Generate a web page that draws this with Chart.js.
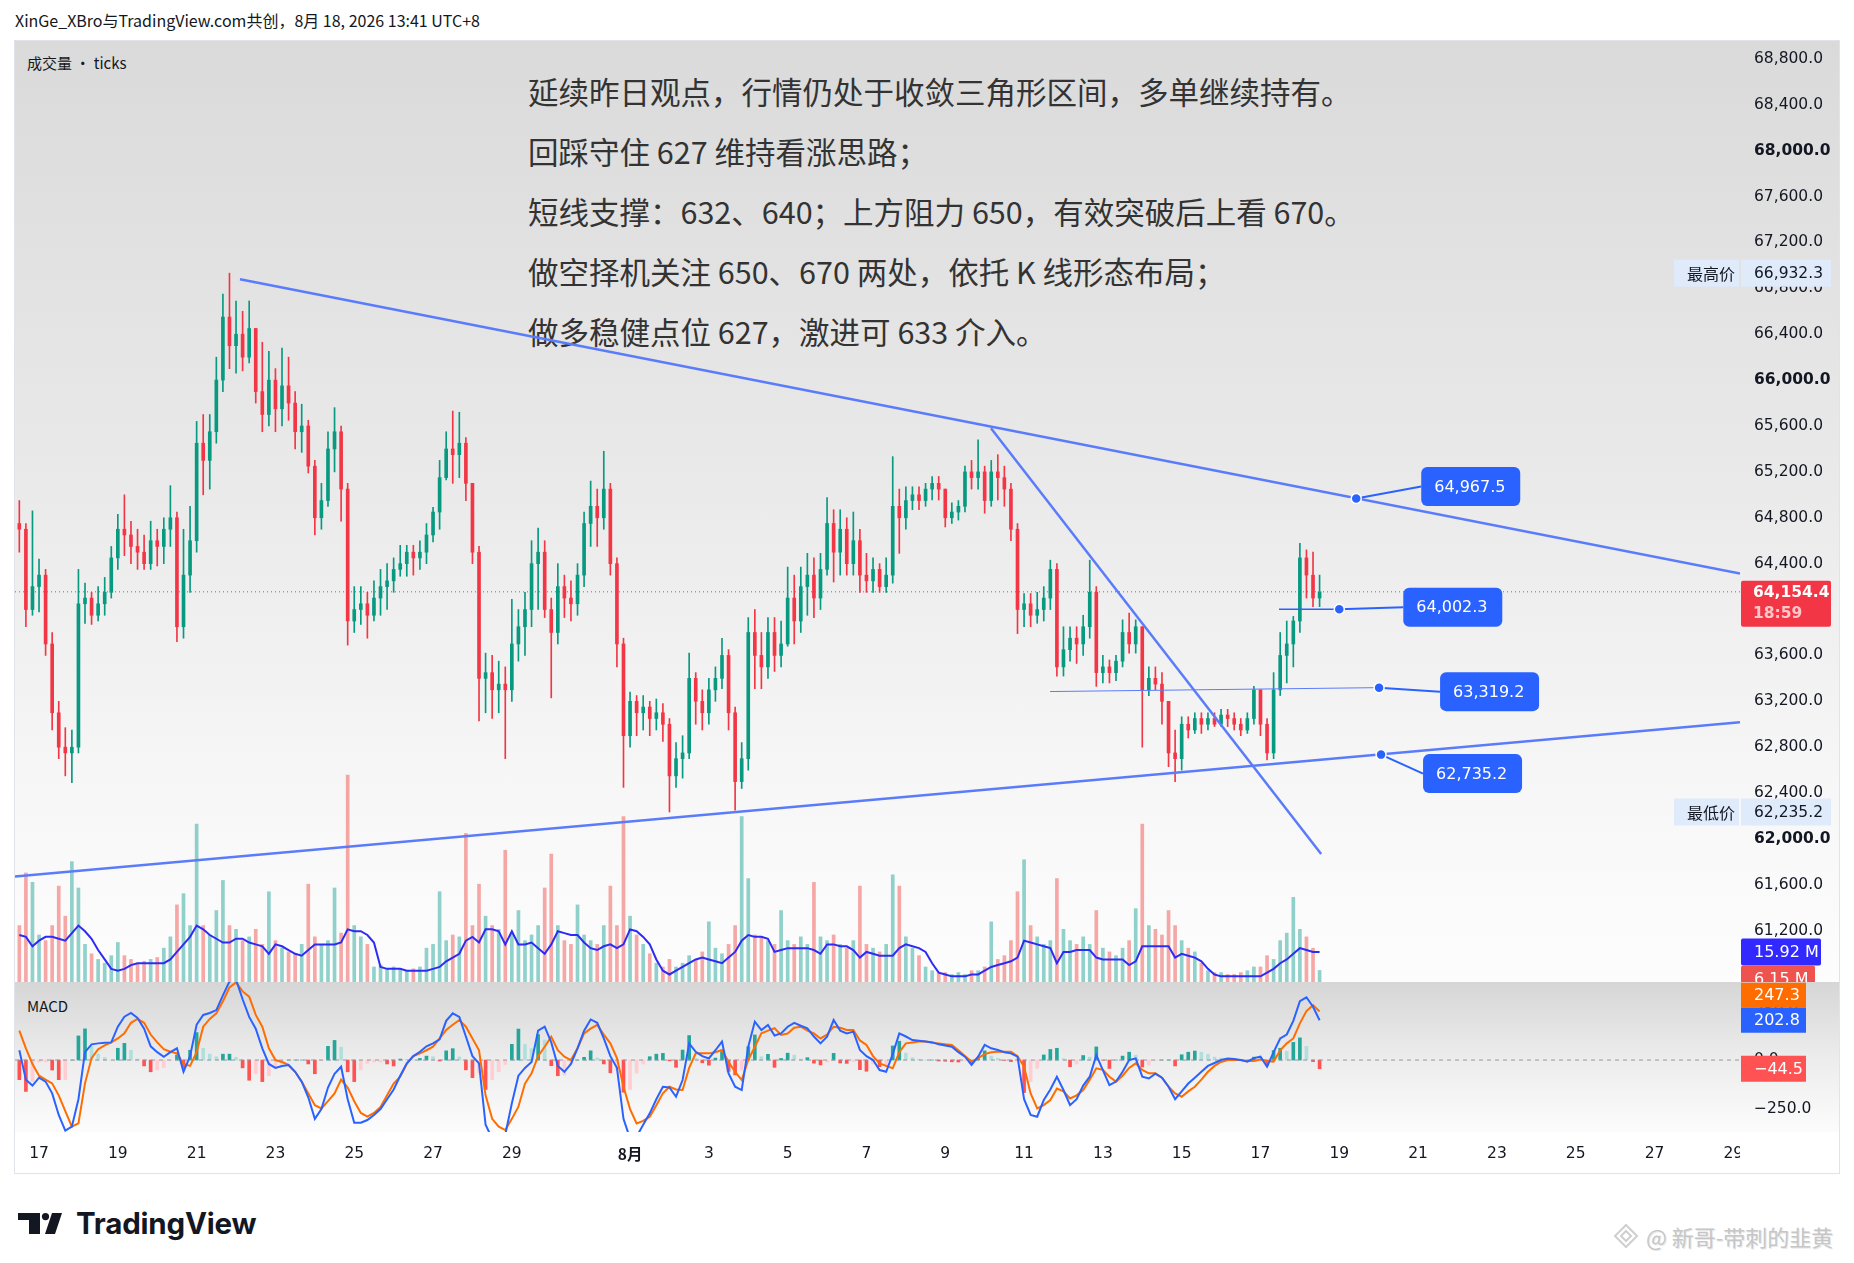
<!DOCTYPE html>
<html lang="zh-CN">
<head>
<meta charset="utf-8">
<title>XinGe_XBro TradingView</title>
<script src="https://cdn.jsdelivr.net/npm/chart.js@4.4.1/dist/chart.umd.min.js"></script>
<style>
    body { margin: 0; width: 1854px; height: 1263px; background: #fff; position: relative; overflow: hidden; font-family: "DejaVu Sans", sans-serif; color: #131722; }
    .abs { position: absolute; }
    #header { left: 15px; top: 8px; font-family: "Noto Sans CJK SC", sans-serif; font-size: 16px; white-space: nowrap; }
    #frame { left: 14px; top: 40px; width: 1826px; height: 1134px; border: 1px solid #e0e3eb; box-sizing: border-box; }
    #mainBg { left: 15px; top: 41px; width: 1824px; height: 941px; background: linear-gradient(#dadada, #e9e9e9 45%, #f7f7f7 80%, #fdfdfd); }
    #macdBg { left: 15px; top: 982px; width: 1824px; height: 150px; background: linear-gradient(#d6d6d6, #ececec 50%, #fcfcfc); }
    #mainBox { left: 15px; top: 40px; width: 1824px; height: 942px; }
    #macdBox { left: 15px; top: 982px; width: 1824px; height: 191px; }
    .paneTitle { font-family: "Noto Sans CJK SC", sans-serif; font-size: 15px; color: #131722; }
    #notes { left: 528px; top: 61px; font-family: "Noto Sans CJK SC", sans-serif; font-size: 30.5px; line-height: 60px; color: #333; white-space: nowrap; }
    #logo { left: 18px; top: 1205px; display: flex; align-items: center; }
    #logo span { font-family: "Inter", sans-serif; font-weight: 700; font-size: 29.5px; letter-spacing: -0.2px; color: #131722; margin-left: 14px; }
    #mark { left: 1612px; top: 1220px; font-family: "Noto Sans CJK SC", sans-serif; font-size: 22px; color: #c6c6c6; text-shadow: 1px 1px 0 #e9e9e9; display: flex; align-items: center; }
</style>
</head>
<body>
<div id="header" class="abs">XinGe_XBro与TradingView.com共创，8月 18, 2026 13:41 UTC+8</div>
<div id="mainBg" class="abs"></div>
<div id="macdBg" class="abs"></div>
<div id="frame" class="abs"></div>
<div class="abs paneTitle" style="left:27px;top:52px;">成交量 · ticks</div>
<div class="abs paneTitle" style="left:27px;top:995px;">MACD</div>
<div id="notes" class="abs">
    <div>延续昨日观点，行情仍处于收敛三角形区间，多单继续持有。</div>
    <div>回踩守住 627 维持看涨思路；</div>
    <div>短线支撑：632、640；上方阻力 650，有效突破后上看 670。</div>
    <div>做空择机关注 650、670 两处，依托 K 线形态布局；</div>
    <div>做多稳健点位 627，激进可 633 介入。</div>
</div>
<div id="mainBox" class="abs"><canvas id="mainChart"></canvas></div>
<div id="macdBox" class="abs"><canvas id="macdChart"></canvas></div>
<div id="logo" class="abs">
    <svg width="44" height="21" viewBox="0 0 44 21"><path d="M0 0H22V21H11V7H0Z" fill="#131722"/><circle cx="27.5" cy="3.6" r="3.6" fill="#131722"/><path d="M34 0H44L37 21H27Z" fill="#131722"/></svg>
    <span>TradingView</span>
</div>
<div id="mark" class="abs">
    <svg width="28" height="28" viewBox="0 0 28 28"><path d="M14 3L25 14L14 25L3 14Z M14 9L19 14L14 19L9 14Z" fill="none" stroke="#cfcfcf" stroke-width="2"/></svg>
    <span style="margin-left:6px;">@ 新哥-带刺的韭黄</span>
</div>

<script>
/* Data: 4h bars from 16 Jul 12:00, x axis counts days from 17 Jul 00:00 */
const firstBarDay = -0.5;
const barDays = 4 / 24;
const firstOpen = 64750;

const closes = [
    64700, 64000, 64200,
    64300, 63700, 63100, 62800, 62750, 62800,
    64050, 64100, 63950, 64050, 64150, 64450,
    64700, 64650, 64550, 64500, 64400, 64600,
    64550, 64700, 64800, 63850, 64300, 64600,
    65450, 65300, 65550, 66000, 66550, 66300,
    66400, 66200, 66450, 65900, 65700, 66000,
    65750, 65950, 65800, 65550, 65600, 65250,
    64800, 64950, 65400, 65550, 65050, 63900,
    64000, 64050, 63950, 64100, 64200, 64250,
    64350, 64400, 64500, 64450, 64500, 64650,
    64850, 65150, 65400, 65350, 65450, 65100,
    64500, 63400, 63450, 63300, 63350, 63300,
    63700, 63850, 64000, 64400, 64500, 64000,
    63800, 64200, 64100, 64050, 64300, 64750,
    64900, 64800, 65050, 64400, 63700, 62900,
    63200, 63100, 63150, 63050, 63100, 63000,
    62550, 62700, 62750, 63400, 63200, 63100,
    63300, 63400, 63600, 63100, 62500, 62700,
    63800, 63600, 63500, 63800, 63600, 63700,
    64100, 63900, 64200, 64300, 64100, 64350,
    64750, 64500, 64700, 64400, 64600, 64300,
    64250, 64350, 64200, 64300, 64900, 64800,
    64950, 65000, 64950, 65050, 65100, 65050,
    64800, 64850, 64900, 65200, 65150, 65200,
    64950, 65200, 65150, 65050, 64700, 64000,
    64050, 63950, 64000, 64100, 64350, 63500,
    63650, 63750, 63700, 63850, 64150, 63450,
    63500, 63450, 63550, 63800, 63700, 63850,
    63300, 63400, 63350, 63200, 62750, 62700,
    63000, 62950, 63050, 63000, 63050, 63000,
    63080, 63050, 63000, 62950, 63050, 63300,
    63000, 62750, 63300, 63600, 63700, 63900,
    64450, 64300, 64100, 64154.4
];

const highs = [
    64950, 64750, 64860,
    64440, 64350, 63800, 63200, 62970, 62950,
    64350, 64230, 64150, 64200, 64280, 64550,
    64830, 65000, 64770, 64700, 64650, 64770,
    64700, 64800, 65080, 64850, 64700, 64900,
    65640, 65700, 65700, 66200, 66750, 66932.3,
    66690, 66600, 66690, 66450, 66330, 66250,
    66100, 66280, 66200, 65900, 65790, 65650,
    65300, 65100, 65550, 65760, 65600, 65100,
    64200, 64200, 64150, 64250, 64350, 64400,
    64450, 64560, 64560, 64560, 64600, 64750,
    64890, 65300, 65550, 65730, 65720, 65500,
    65100, 64550, 63620, 63600, 63550, 63500,
    64090, 64000, 64150, 64600, 64710, 64600,
    64100, 64400, 64300, 64250, 64400, 64850,
    65120, 65050, 65380, 65100, 64450, 63750,
    63280, 63250, 63250, 63200, 63220, 63180,
    63050, 62840, 62900, 63620, 63450, 63300,
    63400, 63500, 63750, 63650, 63150, 62840,
    63930, 64000, 63800, 63930, 63930, 63900,
    64370, 64300, 64370, 64490, 64450, 64490,
    64975, 64870, 64870, 64800, 64850, 64700,
    64490, 64450, 64400, 64450, 65333, 65050,
    65070, 65070, 65070, 65100, 65160, 65160,
    65000, 64930, 64950, 65250, 65300, 65480,
    65250, 65300, 65350, 65250, 65100, 64750,
    64140, 64140, 64150, 64200, 64430, 64400,
    63850, 63850, 63850, 63950, 64430, 64200,
    63600, 63560, 63600, 63910, 63970, 63910,
    63850, 63500, 63500, 63450, 63200, 62950,
    63065, 63065, 63100, 63100, 63100, 63100,
    63130, 63130, 63100, 63050, 63100, 63330,
    63300, 63050, 63450, 63800, 63900, 63940,
    64578, 64520, 64500, 64300
];

const lows = [
    64500, 63850, 63950,
    63980, 63600, 62950, 62700, 62550, 62490,
    62750, 63880, 63870, 63900, 63950, 64100,
    64350, 64470, 64400, 64350, 64350, 64350,
    64380, 64400, 64550, 63720, 63750, 64150,
    64500, 65000, 65050, 65450, 65900, 66100,
    66060, 66080, 66150, 65800, 65550, 65600,
    65550, 65600, 65650, 65400, 65370, 65190,
    64650, 64700, 64900, 65200, 64770, 63690,
    63800, 63870, 63750, 63900, 63950, 64000,
    64150, 64290, 64290, 64300, 64350, 64400,
    64590, 64700, 65130, 65100, 65150, 64950,
    64400, 63030, 63100, 63050, 63100, 62700,
    63200, 63550, 63600, 63850, 64000, 63930,
    63230, 63700, 63930, 63900, 63950, 64200,
    64550, 64550, 64700, 64300, 63500, 62450,
    62800, 62900, 62950, 62900, 62950, 62850,
    62235.2, 62450, 62530, 62700, 63000, 62950,
    63000, 63200, 63310, 62950, 62250, 62440,
    62600, 63310, 63310, 63400, 63460, 63500,
    63680, 63700, 63800, 63950, 63930, 64000,
    64300, 64240, 64300, 64300, 64300, 64150,
    64150, 64150, 64150, 64150, 64230, 64490,
    64700, 64870, 64870, 64900, 64955, 64955,
    64720, 64750, 64780, 64850, 65050, 65050,
    64840, 64900, 64955, 64900, 64600, 63790,
    63850, 63850, 63880, 63900, 64000, 63420,
    63420, 63550, 63530, 63600, 63750, 63330,
    63360, 63360, 63380, 63500, 63620, 63620,
    62800, 63250, 63300, 63000, 62630, 62500,
    62600, 62880, 62920, 62920, 62950, 62980,
    62980, 62980, 62950, 62900, 62920, 63000,
    62900, 62690, 62700, 63250, 63360, 63500,
    63800, 64100, 64025, 64025
];

// volume, millions
const volumes = [
    30, 58, 53,
    25, 22, 30, 51, 35, 64,
    50, 20, 15, 12, 10, 14,
    21, 14, 12, 10, 11, 12,
    13, 18, 24, 41, 47, 30,
    84, 30, 25, 38, 54, 30,
    28, 22, 24, 28, 20, 48,
    22, 18, 16, 15, 20, 52,
    24, 20, 22, 50, 26, 110,
    30, 24, 20, 8, 9, 7,
    8, 7, 6, 7, 8, 18,
    20, 48, 22, 25, 24, 79,
    30, 52, 35, 30, 28, 70,
    26, 38, 22, 25, 30, 50,
    68, 30, 22, 20, 41, 25,
    22, 20, 30, 51, 30, 88,
    35, 25, 20, 15, 10, 8,
    12, 8, 10, 14, 12, 16,
    32, 18, 15, 20, 30, 88,
    55, 25, 24, 22, 20, 38,
    22, 20, 24, 20, 53, 24,
    22, 25, 20, 18, 22, 51,
    20, 18, 16, 20, 57, 51,
    24, 18, 14, 8, 6, 5,
    5, 4, 5, 4, 6, 6,
    8, 32, 12, 14, 22, 48,
    65, 30, 24, 20, 22, 55,
    28, 22, 20, 24, 20, 38,
    18, 16, 14, 18, 22, 39,
    84, 30, 28, 25, 38, 30,
    22, 18, 16, 10, 6, 5,
    5, 4, 4, 5, 6, 8,
    8, 14, 12, 22, 26, 45,
    28, 24, 18, 6.15
];

const volumeMA = [
    25, 24, 19,
    22, 24, 24, 23, 22, 26,
    30, 27, 23, 17, 12, 7,
    6, 7, 9, 10, 10, 10,
    10, 10, 12, 16, 20, 24,
    30, 28, 25, 23, 21, 21,
    23, 23, 21, 20, 19, 15,
    20, 19, 17, 15, 14, 17,
    20, 20, 20, 20, 21, 28,
    27, 27, 25, 21, 8, 7,
    7, 7, 6, 6, 6, 6,
    7, 8, 11, 13, 15, 22,
    24, 21, 28, 28, 27, 20,
    27, 20, 20, 21, 18, 15,
    20, 27, 26, 25, 25, 21,
    18, 17, 19, 20, 18, 20,
    28, 27, 24, 20, 12, 6,
    4, 6, 8, 10, 12, 13,
    12, 11, 10, 13, 16, 22,
    25, 24, 24, 23, 16, 17,
    18, 18, 18, 18, 17, 15,
    20, 20, 19, 19, 17, 13,
    16, 15, 14, 14, 14, 18,
    20, 19, 18, 16, 10, 5,
    4, 3, 3, 3, 4, 4,
    6, 8, 9, 10, 11, 13,
    22, 21, 20, 19, 18, 10,
    16, 16, 17, 17, 17, 13,
    12, 12, 12, 12, 9, 11,
    19, 19, 19, 19, 19, 13,
    15, 14, 13, 11, 7, 4,
    3, 3, 3, 3, 3, 3,
    3, 5, 7, 10, 12, 15,
    18, 17, 16, 15.92
];

const macdLine = [
    50, -100, -130,
    -90, -110, -170, -280, -360, -340,
    -200, 40, 80, 85, 88, 90,
    170, 221, 240, 215, 160, 70,
    40, 17, 40, 60, -60, 20,
    180, 230, 240, 255, 330, 400,
    410, 310, 220, 160, 60, -20,
    -40, -30, -25, -60, -110, -190,
    -300, -250, -140, -70, -34, -200,
    -320, -320, -306, -280, -250, -200,
    -150, -80, -17, 20, 42, 70,
    85, 105, 200, 238, 220, 120,
    20, -17, -330, -400, -400, -380,
    -220, -80, -40, -10, 150, 170,
    90, -30, -60, -20, 60, 150,
    207, 190, 110, 20, -40, -300,
    -400, -390, -330, -272, -200, -136,
    -140, -187, -102, 85, 42, 20,
    8, 50, 94, -68, -136, -153,
    68, 196, 153, 179, 125, 136,
    170, 190, 175, 162, 120, 85,
    119, 204, 150, 136, 145, 51,
    20, 0, -51, -60, 30, 136,
    120, 102, 98, 94, 90, 80,
    74, 68, 40, 17, -25, 17,
    77, 60, 51, 40, 34, 17,
    -200, -280, -289, -204, -150, -85,
    -153, -230, -200, -130, -85, 25,
    -51, -128, -110, -60, 0, 8,
    -85, -94, -70, -90, -136, -200,
    -160, -120, -90, -60, -30, -15,
    0, 8, 5, 0, -8, 10,
    17, -34, 40, 110, 130, 200,
    300, 320, 272, 202.8
];

const signalLine = [
    150, 60, -20,
    -80, -100, -119, -180, -260, -340,
    -323, -119, 10, 55, 75, 90,
    110, 136, 190, 210, 190, 130,
    90, 55, 42, 34, -20, -30,
    40, 170, 210, 238, 300, 370,
    396, 350, 323, 230, 170, 60,
    0, -10, -25, -60, -110, -170,
    -230, -247, -210, -170, -100, -140,
    -210, -270, -289, -270, -240, -180,
    -120, -85, -20, 20, 34, 50,
    68, 110, 153, 180, 204, 170,
    110, 50, -180, -300, -340, -357,
    -300, -238, -120, -68, 20, 68,
    119, 50, 17, 0, 60, 136,
    160, 179, 130, 85, 10, -136,
    -250, -323, -310, -289, -230, -170,
    -136, -150, -153, -40, 34, 34,
    34, 40, 51, -10, -60, -102,
    0, 68, 136, 150, 162, 128,
    135, 165, 170, 150, 136, 110,
    130, 170, 165, 153, 153, 100,
    77, 20, -17, -30, -42, 40,
    85, 90, 94, 94, 90, 85,
    80, 77, 50, 20, -8, 10,
    30, 40, 42, 42, 42, 20,
    -34, -170, -247, -230, -204, -145,
    -160, -196, -180, -153, -100, -42,
    -50, -85, -110, -80, -40, -17,
    -50, -68, -68, -90, -136, -170,
    -187, -160, -136, -100, -60, -30,
    -10, 0, 0, 0, -5, -5,
    3, -5, -8, 50, 85, 110,
    187, 250, 280, 247.3
];

const priceTicks = [61200, 61600, 62000, 62400, 62800, 63200, 63600, 64000, 64400, 64800, 65200, 65600, 66000, 66400, 66800, 67200, 67600, 68000, 68400, 68800];
const macdTicks = [-250, 0, 250];
const tickDays = [0, 2, 4, 6, 8, 10, 12, 15, 17, 19, 21, 23, 25, 27, 29, 31, 33, 35, 37, 39, 41, 43];
const tickLabels = ['17', '19', '21', '23', '25', '27', '29', '8月', '3', '5', '7', '9', '11', '13', '15', '17', '19', '21', '23', '25', '27', '29'];

// drawings (day, price)
const upperTrend = [[5.10, 66880], [43.17, 64314]];
const lowerTrend = [[-0.61, 61672], [43.17, 63017]];
const steepTrend = [[24.16, 65580], [32.54, 61869]];
const levelLine = [[25.66, 63285], [34.01, 63319.2]];
const shortLine = [[31.47, 64002.3], [33.0, 64002.3]];
const tagPoints = [[33.43, 64967.5], [33.0, 64002.3], [34.01, 63319.2], [34.06, 62735.2]];

const lastPrice = 64154.4;
const barTimer = '18:59';
const highestPrice = 66932.3;
const lowestPrice = 62235.2;
const lastVolume = 6.15;
const lastVolumeMA = 15.92;
const lastMacd = 202.8;
const lastSignal = 247.3;

const xMin = -0.61;
const xMax = 43.17;

/* Helpers */
function GetTimes(values) {
    let times = [];
    for (let i = 0; i < values.length; i++) {
        times.push(firstBarDay + i * barDays);
    }
    return times;
}

function GetOpens(values) {
    let opens = [];
    let prev = firstOpen;
    for (let i = 0; i < values.length; i++) {
        opens.push(prev);
        prev = values[i];
    }
    return opens;
}

function FormatPrice(v) {
    return v.toLocaleString('en-US', { minimumFractionDigits: 1, maximumFractionDigits: 1 });
}

function FormatSigned(v) {
    return (v < 0 ? '\u2212' : '') + Math.abs(v).toFixed(1);
}

function ToPoints(pairs) {
    return pairs.map(function (p) { return { x: p[0], y: p[1] }; });
}

function DrawTag(ctx, x, y, w, h, bg, text, color, font, radius) {
    ctx.fillStyle = bg;
    ctx.beginPath();
    ctx.roundRect(x, y, w, h, radius || 0);
    ctx.fill();
    ctx.fillStyle = color;
    ctx.font = font;
    ctx.textAlign = 'left';
    ctx.textBaseline = 'middle';
    ctx.fillText(text, x + 13, y + h / 2 + 1);
}

const times = GetTimes(closes);
const opens = GetOpens(closes);
const upColor = '#089981';
const downColor = '#f23645';
const tagFont = '16px "DejaVu Sans"';

let candleColors = [];
let volumeColors = [];
let bodies = [];
let wicks = [];
let volumeBars = [];
let volumeLine = [];
for (let i = 0; i < closes.length; i++) {
    let up = closes[i] >= opens[i];
    candleColors.push(up ? upColor : downColor);
    volumeColors.push(up ? 'rgba(38,166,154,0.5)' : 'rgba(239,83,80,0.5)');
    bodies.push({ x: times[i], y: [opens[i], closes[i]] });
    wicks.push({ x: times[i], y: [Math.min(lows[i], opens[i], closes[i]), Math.max(highs[i], opens[i], closes[i])] });
    volumeBars.push({ x: times[i], y: volumes[i] });
    volumeLine.push({ x: times[i], y: volumeMA[i] });
}

let histBars = [];
let histColors = [];
let macdPoints = [];
let signalPoints = [];
let prevHist = 0;
for (let i = 0; i < macdLine.length; i++) {
    let h = macdLine[i] - signalLine[i];
    histBars.push({ x: times[i], y: h });
    if (h >= 0) {
        histColors.push(h >= prevHist ? '#26a69a' : '#b2dfdb');
    } else {
        histColors.push(h < prevHist ? '#ff5252' : '#ffcdd2');
    }
    prevHist = h;
    macdPoints.push({ x: times[i], y: macdLine[i] });
    signalPoints.push({ x: times[i], y: signalLine[i] });
}

Chart.defaults.font.family = '"DejaVu Sans", sans-serif';
Chart.defaults.color = '#131722';

/* Price pane */
const mainOverlay = {
    id: 'mainOverlay',
    afterDraw: function (chart) {
        let ctx = chart.ctx;
        let xs = chart.scales.x;
        let ys = chart.scales.y;
        let vs = chart.scales.yVol;
        let axisX = chart.chartArea.right;
        let offsets = [[65, -12], [64, -2], [61, 4], [42, 19]];

        ctx.save();
        ctx.beginPath();
        ctx.rect(0, 0, axisX, chart.height);
        ctx.clip();
        tagPoints.forEach(function (p, k) {
            let px = xs.getPixelForValue(p[0]);
            let py = ys.getPixelForValue(p[1]);
            let bx = px + offsets[k][0];
            let cy = py + offsets[k][1];
            ctx.strokeStyle = '#2962ff';
            ctx.lineWidth = 2;
            ctx.beginPath();
            ctx.moveTo(px, py);
            ctx.lineTo(bx, cy);
            ctx.stroke();
            DrawTag(ctx, bx, cy - 19.5, 99, 39, '#2962ff', FormatPrice(p[1]), '#ffffff', tagFont, 6);
            ctx.beginPath();
            ctx.arc(px, py, 5, 0, Math.PI * 2);
            ctx.fillStyle = '#2962ff';
            ctx.fill();
            ctx.strokeStyle = '#ffffff';
            ctx.lineWidth = 1.5;
            ctx.stroke();
        });
        ctx.restore();

        ctx.save();
        let hy = ys.getPixelForValue(highestPrice);
        DrawTag(ctx, axisX - 66, hy - 13.5, 65, 27, '#dfeafb', '最高价', '#131722', '16px "Noto Sans CJK SC"');
        DrawTag(ctx, axisX + 1, hy - 13.5, 90, 27, '#dfeafb', FormatPrice(highestPrice), '#131722', '15.5px "DejaVu Sans"');
        let ly = ys.getPixelForValue(lowestPrice);
        DrawTag(ctx, axisX - 66, ly - 13.5, 65, 27, '#dfeafb', '最低价', '#131722', '16px "Noto Sans CJK SC"');
        DrawTag(ctx, axisX + 1, ly - 13.5, 90, 27, '#dfeafb', FormatPrice(lowestPrice), '#131722', '15.5px "DejaVu Sans"');

        let py = ys.getPixelForValue(lastPrice);
        ctx.fillStyle = '#f23645';
        ctx.beginPath();
        ctx.roundRect(axisX + 1, py - 11, 90, 46, 2);
        ctx.fill();
        ctx.textAlign = 'left';
        ctx.textBaseline = 'middle';
        ctx.fillStyle = '#ffffff';
        ctx.font = 'bold 15.5px "DejaVu Sans"';
        ctx.fillText(FormatPrice(lastPrice), axisX + 13, py + 1);
        ctx.fillStyle = '#ffc6c9';
        ctx.fillText(barTimer, axisX + 13, py + 22);

        let my = vs.getPixelForValue(lastVolumeMA);
        DrawTag(ctx, axisX + 1, my - 13.5, 80, 27, '#3129ff', lastVolumeMA.toFixed(2) + ' M', '#ffffff', '16px "DejaVu Sans"', 2);
        DrawTag(ctx, axisX + 1, my + 13.5, 74, 27, '#ef5350', lastVolume.toFixed(2) + ' M', '#ffffff', '16px "DejaVu Sans"', 2);
        ctx.restore();
    }
};

new Chart(document.getElementById('mainChart'), {
    type: 'line',
    data: {
        datasets: [
            { type: 'bar', yAxisID: 'yVol', data: volumeBars, backgroundColor: volumeColors, barThickness: 3, grouped: false, order: 10 },
            { type: 'line', yAxisID: 'yVol', data: volumeLine, borderColor: '#2e2bf5', borderWidth: 2, pointRadius: 0, order: 9 },
            { type: 'bar', yAxisID: 'y', data: wicks, backgroundColor: candleColors, barThickness: 1, grouped: false, order: 6 },
            { type: 'bar', yAxisID: 'y', data: bodies, backgroundColor: candleColors, barThickness: 3, minBarLength: 1, grouped: false, order: 5 },
            { type: 'line', yAxisID: 'y', data: [{ x: xMin, y: lastPrice }, { x: xMax, y: lastPrice }], borderColor: '#f23645', borderWidth: 1, borderDash: [1, 3], pointRadius: 0, order: 4 },
            { type: 'line', yAxisID: 'y', data: ToPoints(upperTrend), borderColor: '#5b7cfa', borderWidth: 2.5, pointRadius: 0, order: 3 },
            { type: 'line', yAxisID: 'y', data: ToPoints(lowerTrend), borderColor: '#5b7cfa', borderWidth: 2.5, pointRadius: 0, order: 3 },
            { type: 'line', yAxisID: 'y', data: ToPoints(steepTrend), borderColor: '#5b7cfa', borderWidth: 2.5, pointRadius: 0, order: 3 },
            { type: 'line', yAxisID: 'y', data: ToPoints(levelLine), borderColor: '#5b7cfa', borderWidth: 1, pointRadius: 0, order: 3 },
            { type: 'line', yAxisID: 'y', data: ToPoints(shortLine), borderColor: '#2962ff', borderWidth: 1.5, pointRadius: 0, order: 3 }
        ]
    },
    options: {
        animation: false,
        responsive: true,
        maintainAspectRatio: false,
        layout: { padding: 0 },
        events: [],
        plugins: { legend: { display: false }, tooltip: { enabled: false } },
        scales: {
            x: { type: 'linear', min: xMin, max: xMax, offset: false, grid: { offset: false }, display: false },
            y: {
                position: 'right',
                min: 60753,
                max: 68965,
                afterBuildTicks: function (scale) {
                    scale.ticks = priceTicks.map(function (v) { return { value: v }; });
                },
                afterFit: function (scale) {
                    scale.width = 99;
                    scale.paddingTop = 0;
                    scale.paddingBottom = 0;
                },
                grid: { display: false, drawTicks: false },
                border: { display: false },
                ticks: {
                    padding: 14,
                    color: '#131722',
                    font: function (c) {
                        return { size: 15.5, weight: c.tick && c.tick.value % 2000 === 0 ? 'bold' : 'normal' };
                    },
                    callback: function (v) { return FormatPrice(v); }
                }
            },
            yVol: { display: false, min: 0, max: 501 }
        }
    },
    plugins: [mainOverlay]
});

/* MACD pane */
const macdOverlay = {
    id: 'macdOverlay',
    afterDraw: function (chart) {
        let ctx = chart.ctx;
        let ys = chart.scales.y;
        let area = chart.chartArea;
        ctx.save();
        ctx.fillStyle = '#ffffff';
        ctx.fillRect(area.right, area.bottom, chart.width - area.right, chart.height - area.bottom);
        let by = ys.getPixelForValue(lastMacd);
        let oy = Math.min(ys.getPixelForValue(lastSignal), by - 25);
        let ry = ys.getPixelForValue(lastMacd - lastSignal);
        DrawTag(ctx, area.right + 1, oy - 12.5, 65, 25, '#ff6d00', FormatSigned(lastSignal), '#ffffff', tagFont);
        DrawTag(ctx, area.right + 1, by - 12.5, 65, 25, '#2962ff', FormatSigned(lastMacd), '#ffffff', tagFont);
        DrawTag(ctx, area.right + 1, ry - 13, 65, 26, '#ff5252', FormatSigned(lastMacd - lastSignal), '#ffffff', tagFont);
        ctx.restore();
    }
};

new Chart(document.getElementById('macdChart'), {
    type: 'line',
    data: {
        datasets: [
            { type: 'bar', data: histBars, backgroundColor: histColors, barThickness: 3, grouped: false, order: 5 },
            { type: 'line', data: [{ x: xMin, y: 0 }, { x: xMax, y: 0 }], borderColor: '#9598a1', borderWidth: 1, borderDash: [4, 4], pointRadius: 0, order: 4 },
            { type: 'line', data: signalPoints, borderColor: '#ff6d00', borderWidth: 2, pointRadius: 0, order: 2 },
            { type: 'line', data: macdPoints, borderColor: '#2962ff', borderWidth: 2, pointRadius: 0, order: 1 }
        ]
    },
    options: {
        animation: false,
        responsive: true,
        maintainAspectRatio: false,
        layout: { padding: 0 },
        events: [],
        plugins: { legend: { display: false }, tooltip: { enabled: false } },
        scales: {
            x: {
                type: 'linear',
                min: xMin,
                max: xMax,
                offset: false,
                afterBuildTicks: function (scale) {
                    scale.ticks = tickDays.map(function (v) { return { value: v }; });
                },
                afterFit: function (scale) {
                    scale.height = 41;
                    scale.paddingLeft = 0;
                    scale.paddingRight = 0;
                },
                grid: { display: false, drawTicks: false, offset: false },
                border: { display: false },
                ticks: {
                    padding: 13,
                    maxRotation: 0,
                    autoSkip: false,
                    color: '#131722',
                    font: function (c) {
                        return { size: 15.5, weight: c.tick && c.tick.value === 15 ? 'bold' : 'normal', family: c.tick && c.tick.value === 15 ? '"Noto Sans CJK SC", sans-serif' : '"DejaVu Sans", sans-serif' };
                    },
                    callback: function (v, idx) { return tickLabels[idx]; }
                }
            },
            y: {
                position: 'right',
                min: -367,
                max: 398,
                afterBuildTicks: function (scale) {
                    scale.ticks = macdTicks.map(function (v) { return { value: v }; });
                },
                afterFit: function (scale) {
                    scale.width = 99;
                    scale.paddingTop = 0;
                    scale.paddingBottom = 0;
                },
                grid: { display: false, drawTicks: false },
                border: { display: false },
                ticks: {
                    padding: 14,
                    color: '#131722',
                    font: { size: 15.5 },
                    callback: function (v) { return FormatSigned(v); }
                }
            }
        }
    },
    plugins: [macdOverlay]
});
</script>
</body>
</html>
